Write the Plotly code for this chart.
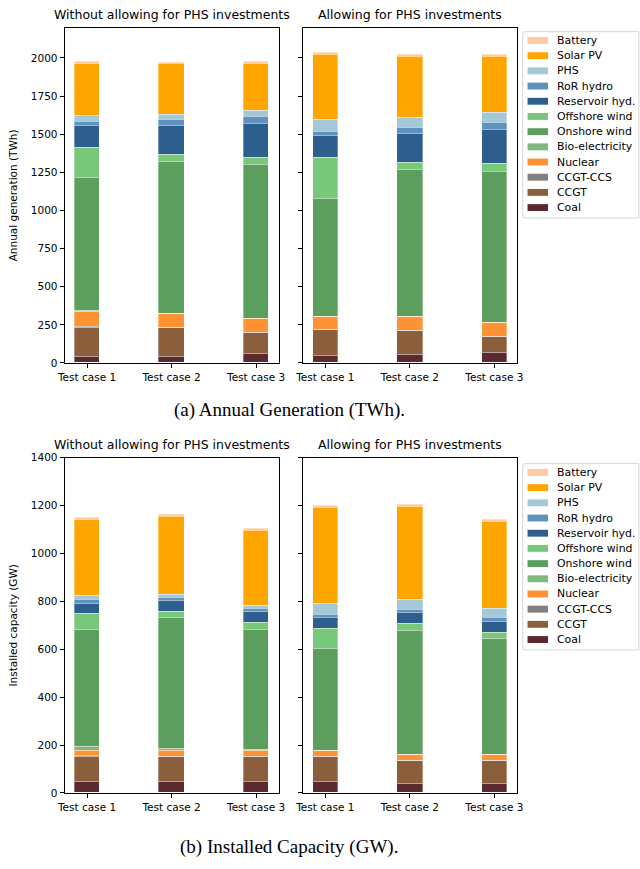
import plotly.graph_objects as go

# Test cases on the x axis
cases = ["Test case 1", "Test case 2", "Test case 3"]

# Technologies, bottom of the stack first
techs = ["Coal", "CCGT", "CCGT-CCS", "Nuclear", "Bio-electricity", "Onshore wind",
         "Offshore wind", "Reservoir hyd.", "RoR hydro", "PHS", "Solar PV", "Battery"]

colors = {
    "Coal": "#5b2a2e",
    "CCGT": "#8b5e3c",
    "CCGT-CCS": "#808080",
    "Nuclear": "#ff9233",
    "Bio-electricity": "#7fb97f",
    "Onshore wind": "#5c9e5e",
    "Offshore wind": "#78c87a",
    "Reservoir hyd.": "#2e5e8e",
    "RoR hydro": "#5f93bd",
    "PHS": "#a4c8d5",
    "Solar PV": "#ffa500",
    "Battery": "#ffcba4",
}

# Annual generation (TWh) without PHS investments
gen_coal_nophs = [43, 39, 58]
gen_ccgt_nophs = [188, 194, 140]
gen_ccs_nophs = [10, 1, 1]
gen_nuclear_nophs = [97, 88, 91]
gen_bio_nophs = [3, 3, 3]
gen_onshore_nophs = [877, 997, 1008]
gen_offshore_nophs = [194, 45, 45]
gen_reservoir_nophs = [142, 186, 224]
gen_ror_nophs = [30, 41, 45]
gen_phs_nophs = [35, 34, 39]
gen_solar_nophs = [342, 334, 308]
gen_battery_nophs = [12, 9, 12]

# Annual generation (TWh) allowing PHS investments
gen_coal_phs = [50, 54, 69]
gen_ccgt_phs = [166, 157, 103]
gen_ccs_phs = [1, 1, 1]
gen_nuclear_phs = [86, 91, 91]
gen_bio_phs = [3, 3, 3]
gen_onshore_phs = [772, 959, 987]
gen_offshore_phs = [271, 48, 50]
gen_reservoir_phs = [138, 187, 226]
gen_ror_phs = [32, 41, 45]
gen_phs_phs = [76, 67, 69]
gen_solar_phs = [424, 403, 362]
gen_battery_phs = [13, 11, 12]

# Installed capacity (GW) without PHS investments
cap_coal_nophs = [49, 49, 49]
cap_ccgt_nophs = [104, 102, 102]
cap_ccs_nophs = [2, 1, 1]
cap_nuclear_nophs = [20, 23, 23]
cap_bio_nophs = [18, 9, 6]
cap_onshore_nophs = [488, 548, 500]
cap_offshore_nophs = [67, 24, 30]
cap_reservoir_nophs = [44, 48, 44]
cap_ror_nophs = [15, 11, 13]
cap_phs_nophs = [15, 15, 16]
cap_solar_nophs = [320, 325, 311]
cap_battery_nophs = [9, 8, 8]

# Installed capacity (GW) allowing PHS investments
cap_coal_phs = [49, 37, 37]
cap_ccgt_phs = [101, 96, 96]
cap_ccs_phs = [1, 1, 1]
cap_nuclear_phs = [24, 25, 25]
cap_bio_phs = [3, 3, 3]
cap_onshore_phs = [426, 516, 482]
cap_offshore_phs = [82, 29, 26]
cap_reservoir_phs = [46, 45, 46]
cap_ror_phs = [13, 15, 14]
cap_phs_phs = [47, 40, 38]
cap_solar_phs = [401, 390, 365]
cap_battery_phs = [7, 8, 7]

panels = [
    ("x", "y", [gen_coal_nophs, gen_ccgt_nophs, gen_ccs_nophs, gen_nuclear_nophs,
                gen_bio_nophs, gen_onshore_nophs, gen_offshore_nophs,
                gen_reservoir_nophs, gen_ror_nophs, gen_phs_nophs,
                gen_solar_nophs, gen_battery_nophs]),
    ("x2", "y2", [gen_coal_phs, gen_ccgt_phs, gen_ccs_phs, gen_nuclear_phs,
                  gen_bio_phs, gen_onshore_phs, gen_offshore_phs,
                  gen_reservoir_phs, gen_ror_phs, gen_phs_phs,
                  gen_solar_phs, gen_battery_phs]),
    ("x3", "y3", [cap_coal_nophs, cap_ccgt_nophs, cap_ccs_nophs, cap_nuclear_nophs,
                  cap_bio_nophs, cap_onshore_nophs, cap_offshore_nophs,
                  cap_reservoir_nophs, cap_ror_nophs, cap_phs_nophs,
                  cap_solar_nophs, cap_battery_nophs]),
    ("x4", "y4", [cap_coal_phs, cap_ccgt_phs, cap_ccs_phs, cap_nuclear_phs,
                  cap_bio_phs, cap_onshore_phs, cap_offshore_phs,
                  cap_reservoir_phs, cap_ror_phs, cap_phs_phs,
                  cap_solar_phs, cap_battery_phs]),
]

fig = go.Figure()
for xa, ya, series in panels:
    for name, vals in zip(techs, series):
        fig.add_trace(go.Bar(
            x=cases, y=vals, name=name, width=0.3,
            marker=dict(color=colors[name], line=dict(color="rgba(255,255,255,0.55)", width=0.6)),
            xaxis=xa, yaxis=ya, showlegend=False,
        ))

W, H = 640, 869
font = "DejaVu Sans"
tick_font = dict(family=font, size=10.5, color="#000000")

xl = [58 / W, 277 / W]
xr = [302 / W, 521 / W]
yt = [1 - 362 / H, 1 - 22 / H]
yb = [1 - 798 / H, 1 - 458 / H]

axis_common = dict(showline=True, linecolor="#000000", linewidth=1, mirror=True,
                   ticks="outside", ticklen=4, tickcolor="#000000", showgrid=False,
                   zeroline=False, tickfont=tick_font)

xcommon = dict(axis_common, type="category", range=[-0.265, 2.265])

fig.update_layout(
    width=W, height=H,
    margin=dict(l=0, r=0, t=0, b=0),
    paper_bgcolor="white", plot_bgcolor="white",
    barmode="stack", bargap=0,
    font=dict(family=font, color="#000000"),
    xaxis=dict(xcommon, domain=xl, anchor="y"),
    xaxis2=dict(xcommon, domain=xr, anchor="y2"),
    xaxis3=dict(xcommon, domain=xl, anchor="y3"),
    xaxis4=dict(xcommon, domain=xr, anchor="y4"),
    yaxis=dict(axis_common, domain=yt, anchor="x", range=[0, 2198],
               tickvals=[0, 250, 500, 750, 1000, 1250, 1500, 1750, 2000],
               title=dict(text="Annual generation (TWh)", font=dict(family=font, size=10.5), standoff=11)),
    yaxis2=dict(axis_common, domain=yt, anchor="x2", range=[0, 2198],
                tickvals=[0, 250, 500, 750, 1000, 1250, 1500, 1750, 2000], showticklabels=False),
    yaxis3=dict(axis_common, domain=yb, anchor="x3", range=[0, 1400],
                tickvals=[0, 200, 400, 600, 800, 1000, 1200, 1400],
                title=dict(text="Installed capacity (GW)", font=dict(family=font, size=10.5), standoff=11)),
    yaxis4=dict(axis_common, domain=yb, anchor="x4", range=[0, 1400],
                tickvals=[0, 200, 400, 600, 800, 1000, 1200, 1400], showticklabels=False),
)

# Legend boxes (one per figure half), drawn as rounded frames with swatches
def px_x(v):
    return v / W


def px_y(v):
    return 1 - v / H


def add_legend(top):
    left, right, bottom = 527, 646, top + 189
    r = 3
    path = (f"M {px_x(left + r)},{px_y(top)} L {px_x(right)},{px_y(top)} "
            f"L {px_x(right)},{px_y(bottom)} L {px_x(left + r)},{px_y(bottom)} "
            f"Q {px_x(left)},{px_y(bottom)} {px_x(left)},{px_y(bottom - r)} "
            f"L {px_x(left)},{px_y(top + r)} Q {px_x(left)},{px_y(top)} {px_x(left + r)},{px_y(top)} Z")
    fig.add_shape(type="path", path=path, xref="paper", yref="paper",
                  fillcolor="rgba(255,255,255,0.8)", line=dict(color="#d6d6d6", width=1))
    for i, name in enumerate(reversed(techs)):
        yc = top + 9 + i * 15.4
        fig.add_shape(type="rect", xref="paper", yref="paper",
                      x0=px_x(532), x1=px_x(553), y0=px_y(yc - 3.5), y1=px_y(yc + 3.5),
                      fillcolor=colors[name], line=dict(width=0))
        fig.add_annotation(text=name, x=px_x(560), y=px_y(yc), xref="paper", yref="paper",
                           xanchor="left", yanchor="middle", showarrow=False,
                           font=dict(family=font, size=10.9, color="#000000"))


add_legend(26)
add_legend(464)

titles = [
    ("Without allowing for PHS investments", (xl[0] + xl[1]) / 2, yt[1]),
    ("Allowing for PHS investments", (xr[0] + xr[1]) / 2, yt[1]),
    ("Without allowing for PHS investments", (xl[0] + xl[1]) / 2, yb[1]),
    ("Allowing for PHS investments", (xr[0] + xr[1]) / 2, yb[1]),
]
for text, x, y in titles:
    fig.add_annotation(text=text, x=x, y=y, xref="paper", yref="paper",
                       xanchor="center", yanchor="bottom", yshift=4, showarrow=False,
                       font=dict(family=font, size=12.5, color="#000000"))

captions = [
    ("(a) Annual Generation (TWh).", 1 - 410 / H),
    ("(b) Installed Capacity (GW).", 1 - 853 / H),
]
for text, y in captions:
    fig.add_annotation(text=text, x=288 / W, y=y, xref="paper", yref="paper",
                       xanchor="center", yanchor="middle", showarrow=False,
                       font=dict(family="Liberation Serif", size=19, color="#000000"))

fig.write_html("out.html")
